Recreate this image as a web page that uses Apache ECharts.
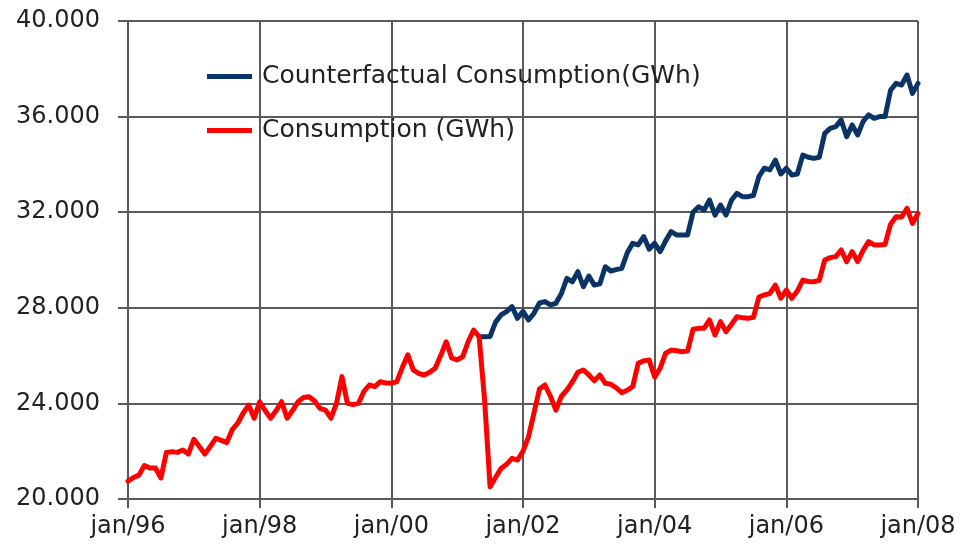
<!DOCTYPE html>
<html>
<head>
<meta charset="utf-8">
<script src="https://cdn.jsdelivr.net/npm/echarts@6/dist/echarts.min.js"></script>
<style>
  html, body { margin: 0; padding: 0; background: #ffffff; }
  #chart { width: 963px; height: 554px; }
</style>
</head>
<body>
<div id="chart"></div>
<script>
// Monthly electricity consumption, jan/96 .. jan/08 (GWh)
const monthNames = ['jan', 'fev', 'mar', 'abr', 'mai', 'jun', 'jul', 'ago', 'set', 'out', 'nov', 'dez'];
const years = ['96', '97', '98', '99', '00', '01', '02', '03', '04', '05', '06', '07', '08'];

const consumption = [
  20750, 20900, 21000, 21400, 21300, 21300, 20880, 21950, 21980, 21950, 22050, 21880,
  22500, 22200, 21880, 22200, 22540, 22450, 22360, 22900, 23170, 23600, 23930, 23380,
  24070, 23700, 23380, 23700, 24070, 23380, 23700, 24070, 24250, 24280, 24100, 23790,
  23720, 23380, 24000, 25120, 24000, 23950, 24000, 24500, 24770, 24700, 24910, 24850,
  24840, 24910, 25500, 26030, 25400, 25250, 25190, 25300, 25470, 26000, 26580, 25900,
  25820, 25950, 26580, 27070, 26790, 24140, 20510, 20900, 21280, 21450, 21700, 21630,
  22000, 22600, 23600, 24600, 24770, 24300, 23720, 24300, 24560, 24900, 25300, 25400,
  25190, 24950, 25190, 24840, 24800, 24650, 24450, 24550, 24700, 25680, 25780, 25820,
  25100, 25470, 26100, 26230, 26200, 26160, 26200, 27100, 27140, 27140, 27490, 26860,
  27420, 27000, 27300, 27630, 27580, 27560, 27600, 28450, 28540, 28600, 28950, 28400,
  28740, 28400, 28700, 29160, 29100, 29090, 29150, 30000, 30100, 30140, 30420, 29930,
  30350, 29930, 30400, 30770, 30630, 30630, 30650, 31500, 31810, 31800, 32160, 31530,
  31950
];

// Counterfactual series begins in mai/01 (month index 64)
const counterfactualStart = 64;
const counterfactual = [
  26790, 26790, 26800, 27400, 27700, 27840, 28050, 27560,
  27850, 27490, 27770, 28200, 28260, 28120, 28190, 28600, 29230, 29090, 29510, 28880,
  29330, 28950, 29000, 29720, 29540, 29600, 29650, 30300, 30700, 30630, 30980, 30450,
  30700, 30350, 30800, 31190, 31050, 31050, 31050, 32000, 32230, 32090, 32510, 31880,
  32300, 31880, 32500, 32790, 32650, 32650, 32700, 33490, 33840, 33770, 34180, 33600,
  33840, 33560, 33600, 34390, 34300, 34250, 34300, 35300, 35510, 35580, 35860, 35160,
  35650, 35230, 35800, 36070, 35930, 36000, 36000, 37100, 37390, 37320, 37740, 36970,
  37390
];

const yTicks = { min: 20000, max: 40000, interval: 4000 };

// Category labels "jan/96", "fev/96", ... "jan/08"
const categories = [];
years.forEach(function (y, i) {
  monthNames.forEach(function (m, j) {
    if (i < years.length - 1 || j === 0) categories.push(m + '/' + y);
  });
});

const counterfactualFull = categories.map(function (_, i) {
  return i < counterfactualStart ? null : counterfactual[i - counterfactualStart];
});

const gridColor = '#5a5a5a';
const textColor = '#222222';
const fontFamily = 'DejaVu Sans, Verdana, sans-serif';

const chart = echarts.init(document.getElementById('chart'), null, { renderer: 'canvas' });

chart.setOption({
  animation: false,
  backgroundColor: '#ffffff',
  grid: { left: 128, right: 45, top: 21, bottom: 55, containLabel: false },
  legend: {
    orient: 'vertical',
    left: 202,
    top: 58,
    icon: 'rect',
    itemWidth: 45,
    itemHeight: 5,
    itemGap: 27,
    textStyle: {
      fontFamily: fontFamily,
      fontSize: 25,
      color: textColor,
      lineHeight: 27,
      padding: [0, 0, 0, 5]
    },
    data: ['Counterfactual Consumption(GWh)', 'Consumption (GWh)']
  },
  xAxis: {
    type: 'category',
    data: categories,
    boundaryGap: false,
    axisLine: { show: true, lineStyle: { color: gridColor, width: 2 } },
    axisTick: { show: true, interval: 23, length: 9, lineStyle: { color: gridColor, width: 2 } },
    axisLabel: {
      interval: 23,
      margin: 16,
      fontFamily: fontFamily,
      fontSize: 24,
      color: textColor
    },
    splitLine: { show: true, interval: 23, lineStyle: { color: gridColor, width: 2 } }
  },
  yAxis: {
    type: 'value',
    min: yTicks.min,
    max: yTicks.max,
    interval: yTicks.interval,
    axisLine: { show: true, lineStyle: { color: gridColor, width: 2 } },
    axisTick: { show: true, length: 10, lineStyle: { color: gridColor, width: 2 } },
    axisLabel: {
      margin: 28,
      fontFamily: fontFamily,
      fontSize: 24,
      color: textColor,
      formatter: function (v) { return (v / 1000).toFixed(3); }
    },
    splitLine: { show: true, lineStyle: { color: gridColor, width: 2 } }
  },
  series: [
    {
      name: 'Counterfactual Consumption(GWh)',
      type: 'line',
      data: counterfactualFull,
      showSymbol: false,
      symbol: 'none',
      connectNulls: false,
      itemStyle: { color: '#0b3366' },
      lineStyle: { color: '#0b3366', width: 5, cap: 'round', join: 'round' },
      z: 2
    },
    {
      name: 'Consumption (GWh)',
      type: 'line',
      data: consumption,
      showSymbol: false,
      symbol: 'none',
      itemStyle: { color: '#ff0000' },
      lineStyle: { color: '#ff0000', width: 5, cap: 'round', join: 'round' },
      z: 3
    }
  ]
});
</script>
</body>
</html>
